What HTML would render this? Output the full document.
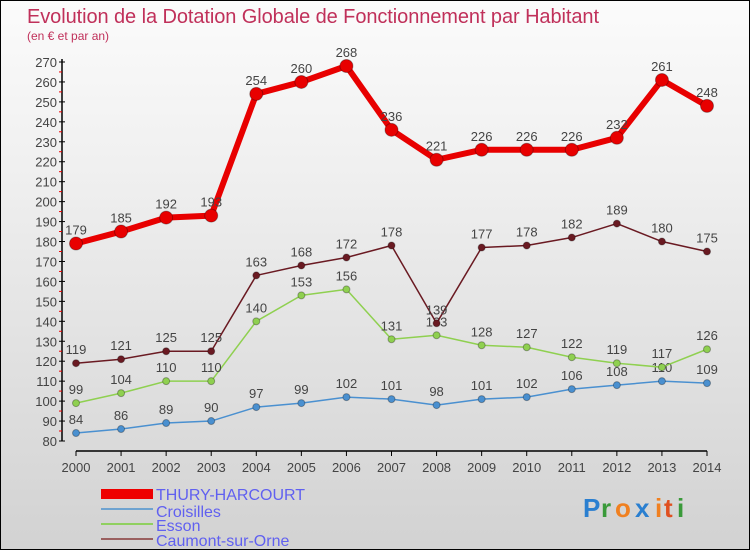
<!DOCTYPE html>
<html><head><meta charset="utf-8"><style>
body{margin:0;}
#c{width:750px;height:550px;position:relative;overflow:hidden;box-sizing:border-box;border:1px solid #000;background:linear-gradient(#fbfbfb,#f0f0f0 30%,#d2d2d2);font-family:"Liberation Sans",sans-serif;}
svg text{font-family:"Liberation Sans",sans-serif;}
</style></head><body>
<div id="c">
<svg id="s" width="750" height="550">
<text x="26" y="22" font-size="20" fill="#c0305a" textLength="572">Evolution de la Dotation Globale de Fonctionnement par Habitant</text>
<text x="26" y="39" font-size="12" fill="#c0305a">(en € et par an)</text>
<g id="axes"></g><g id="series"></g>
<g font-size="16" fill="#6060f0">
<rect x="100" y="488" width="52" height="10" fill="#e00"/>
<text x="155" y="499">THURY-HARCOURT</text>
<rect x="100" y="507" width="52" height="2" fill="#6fa3d0"/>
<text x="155" y="516">Croisilles</text>
<rect x="100" y="522" width="52" height="2" fill="#90d060"/>
<text x="155" y="530">Esson</text>
<rect x="100" y="537" width="52" height="2" fill="#9a6060"/>
<text x="155" y="545">Caumont-sur-Orne</text>
</g>
<g font-size="26" font-weight="bold">
<text x="582" y="516" fill="#2a7fd0">P</text><text x="600" y="516" fill="#3a9a3a">r</text><text x="614" y="516" fill="#f08020">o</text><text x="634" y="516" fill="#2a7fd0">x</text><text x="654" y="516" fill="#f08020">i</text><text x="663" y="516" fill="#e05020">t</text><text x="676" y="516" fill="#3a9a3a">i</text>
</g>
</svg>
</div>
<script>
const years=[2000,2001,2002,2003,2004,2005,2006,2007,2008,2009,2010,2011,2012,2013,2014];
const thury=[179,185,192,193,254,260,268,236,221,226,226,226,232,261,248];
const croisilles=[84,86,89,90,97,99,102,101,98,101,102,106,108,110,109];
const esson=[99,104,110,110,140,153,156,131,133,128,127,122,119,117,126];
const caumont=[119,121,125,125,163,168,172,178,139,177,178,182,189,180,175];
const yTicks=[80,90,100,110,120,130,140,150,160,170,180,190,200,210,220,230,240,250,260,270];
const NS="http://www.w3.org/2000/svg";
const xS=i=>75+i*(706-75)/14;
const yS=v=>440-(v-80)*(440-61)/190;
function mk(t,a,p){const e=document.createElementNS(NS,t);for(const k in a)e.setAttribute(k,a[k]);p.appendChild(e);return e;}
const ax=document.getElementById('axes');
const yAxis=mk('line',{x1:61,y1:58,x2:61,y2:440,stroke:'#000','stroke-width':1.5},ax);


const xAxis=mk('line',{x1:75,y1:450,x2:706,y2:450,stroke:'#000','stroke-width':1.5},ax);


yTicks.forEach((v,i)=>{
  const y=yS(v);
  mk('line',{x1:58,y1:y,x2:64,y2:y,stroke:'#000'},ax);
  if(i<yTicks.length-1)mk('line',{x1:58,y1:y-10,x2:61,y2:y-10,stroke:'#e00'},ax);
  const t=mk('text',{x:56,y:y+5,'font-size':13,'text-anchor':'end',fill:'#444'},ax);
  t.textContent=v;
  
  
});
years.forEach((yr,i)=>{
  const x=xS(i);
  mk('line',{x1:x,y1:450,x2:x,y2:455,stroke:'#000'},ax);
  const t=mk('text',{x:x,y:471,'font-size':13,'text-anchor':'middle',fill:'#444'},ax);
  t.textContent=yr;
  
  
});
const sg=document.getElementById('series');
function draw(vals,color,lw,r,name){
  const g=mk('g',{},sg);
  
  
  const pl=mk('polyline',{points:vals.map((v,i)=>xS(i)+','+yS(v)).join(' '),fill:'none',stroke:color,'stroke-width':lw,'stroke-linejoin':'round'},g);
  
  
  vals.forEach((v,i)=>{
    const c=mk('circle',{cx:xS(i),cy:yS(v),r:r,fill:color,stroke:'rgba(0,0,0,0.3)'},g);
    
    
    const t=mk('text',{x:xS(i),y:yS(v)-9,'font-size':13,'text-anchor':'middle',fill:'#444'},g);
    t.textContent=v;
    
    
  });
}
draw(croisilles,'#4a90d0',1.5,3.5,'croisilles');
draw(esson,'#8fd050',1.5,3.5,'esson');
draw(caumont,'#6a1a22',1.5,3.5,'caumont');
draw(thury,'#e80000',6,6.5,'thury');
</script>
</body></html>
